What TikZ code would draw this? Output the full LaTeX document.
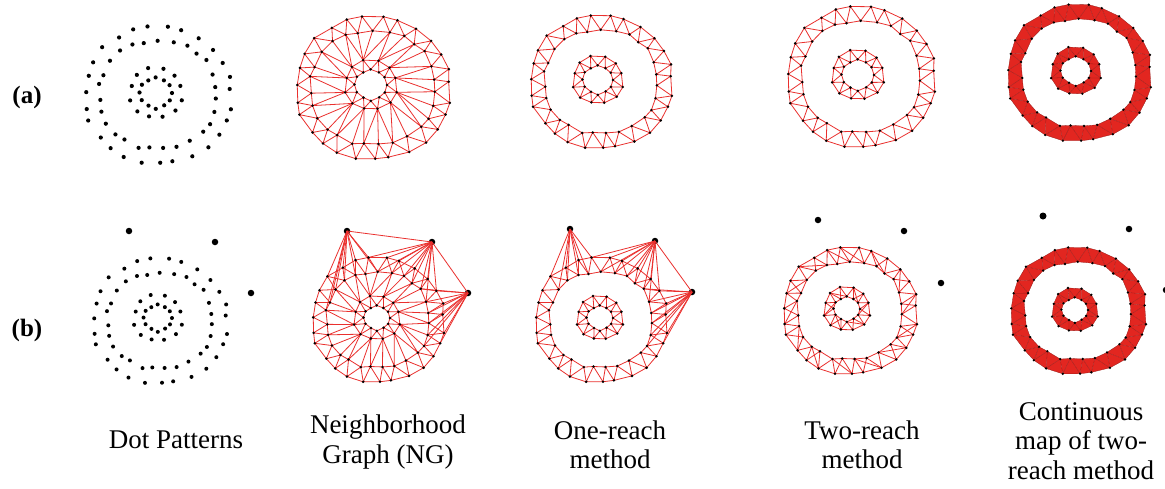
\documentclass[tikz,border=0pt]{standalone}
\usepackage{fontspec}
\setmainfont{Liberation Serif}
\definecolor{edgered}{RGB}{234,48,46}
\definecolor{fillred}{RGB}{226,38,32}
\definecolor{darkred}{RGB}{150,25,22}
\tikzset{
  edge/.style={draw=edgered,line width=0.8pt},
  cedge/.style={draw=darkred,line width=0.3pt},
  outl/.style={circle,fill=black,inner sep=0pt,minimum size=6.5pt},
  lab/.style={align=center,font=\fontsize{27}{29.5}\selectfont},
  rowlab/.style={font=\fontsize{25}{28}\selectfont\bfseries}
}
% ring of points: name, cx, cy, rx, ry, N, half thickness, seed
\newcommand{\mkring}[8]{%
  \pgfmathtruncatemacro{\rlast}{#6-1}%
  \foreach \i in {0,...,\rlast}{%
    \pgfmathsetmacro{\ang}{90+\i*(360/#6)+2*sin(mod(\i*\i,97)*37+#8)}%
    \pgfmathsetmacro{\sg}{2*mod(\i,2)-1}%
    \pgfmathsetmacro{\dd}{\sg*#7+0.18*#7*sin(mod(\i*\i,89)*53+#8)}%
    \pgfmathsetmacro{\ff}{1+0.012*(1-cos(4*\ang))}%
    \coordinate (#1-\i) at ({#2+(#4*\ff+\dd)*cos(\ang)},{#3-(#5*\ff+\dd)*sin(\ang)});%
  }%
}
\newcommand{\ringdots}[3]{%
  \pgfmathtruncatemacro{\rlast}{#2-1}%
  \foreach \i in {0,...,\rlast}{\fill[black] (#1-\i) circle (#3);}%
}
\newcommand{\drawstrip}[3]{%
  \pgfmathtruncatemacro{\rlast}{#2-1}%
  \foreach \i in {0,...,\rlast}{%
    \pgfmathtruncatemacro{\ja}{mod(\i+1,#2)}%
    \pgfmathtruncatemacro{\jb}{mod(\i+2,#2)}%
    \draw[#3] (#1-\i) -- (#1-\ja) (#1-\i) -- (#1-\jb);%
  }%
}
\newcommand{\extrastrip}[3]{%
  \pgfmathtruncatemacro{\rlast}{#2-1}%
  \foreach \i in {0,4,...,\rlast}{%
    \pgfmathtruncatemacro{\jc}{mod(\i+3,#2)}%
    \draw[#3] (#1-\i) -- (#1-\jc);%
  }%
}
\newcommand{\fillstrip}[2]{%
  \pgfmathtruncatemacro{\rlast}{#2-1}%
  \foreach \i in {0,...,\rlast}{%
    \pgfmathtruncatemacro{\ja}{mod(\i+1,#2)}%
    \pgfmathtruncatemacro{\jb}{mod(\i+2,#2)}%
    \fill[fillred] (#1-\i) -- (#1-\ja) -- (#1-\jb) -- cycle;%
  }%
}
% cross fan between outer ring (inner layer) and inner ring (outer layer)
\newcommand{\crossfan}[4]{%
  \pgfmathtruncatemacro{\mh}{#2/2-1}%
  \foreach \m in {0,...,\mh}{%
    \pgfmathtruncatemacro{\oi}{2*\m}%
    \pgfmathtruncatemacro{\na}{mod(floor(\m*#4/#2),#4/2)}%
    \pgfmathtruncatemacro{\nb}{mod(floor((\m+1)*#4/#2),#4/2)}%
    \pgfmathtruncatemacro{\ia}{2*\na+1}%
    \pgfmathtruncatemacro{\ib}{2*\nb+1}%
    \draw[edge] (#1-\oi) -- (#3-\ia) (#1-\oi) -- (#3-\ib);%
  }%
}
\newcommand{\fanto}[3]{\foreach \i in {#3}{\draw[edge] (#1.center) -- (#2-\i);}}
\begin{document}
\begin{tikzpicture}[x=1pt,y=-1pt]
\useasboundingbox (0,0) rectangle (1165,488);
\fill[white] (0,0) rectangle (1165,488);
% ---------- row (a) ----------
\node[rowlab] (la) at (27,97) {(a)};
% dot pattern
\mkring{a1o}{158}{95}{66}{61}{54}{7}{10}
\mkring{a1i}{156}{93}{21}{20}{24}{5}{40}
\ringdots{a1o}{54}{2.1}
\ringdots{a1i}{24}{2.1}
% NG
\mkring{a2o}{373}{88}{70}{64}{54}{7}{10}
\mkring{a2i}{371}{85}{21}{20}{24}{5}{40}
\drawstrip{a2o}{54}{edge}
\drawstrip{a2i}{24}{edge}
\crossfan{a2o}{54}{a2i}{24}
\ringdots{a2o}{54}{1.4}
\ringdots{a2i}{24}{1.4}
% one-reach
\mkring{a3o}{601}{82}{64}{59}{54}{7}{10}
\mkring{a3i}{598}{80}{20}{19}{24}{5}{40}
\drawstrip{a3o}{54}{edge}
\drawstrip{a3i}{24}{edge}
\ringdots{a3o}{54}{1.4}
\ringdots{a3i}{24}{1.4}
% two-reach
\mkring{a4o}{861}{77}{67}{63}{54}{7}{10}
\mkring{a4i}{858}{75}{21}{20}{24}{5}{40}
\drawstrip{a4o}{54}{edge}
\drawstrip{a4i}{24}{edge}
\ringdots{a4o}{54}{1.4}
\ringdots{a4i}{24}{1.4}
% continuous
\mkring{a5o}{1079}{73}{65}{61}{54}{7}{10}
\mkring{a5i}{1076}{71}{20}{19}{24}{5}{40}
\fillstrip{a5o}{54}
\fillstrip{a5i}{24}
\drawstrip{a5o}{54}{cedge}
\drawstrip{a5i}{24}{cedge}
\ringdots{a5o}{54}{1.3}
\ringdots{a5i}{24}{1.3}
% ---------- row (b) ----------
\node[rowlab] (lb) at (27,330) {(b)};
% dot pattern
\mkring{b1o}{160}{321}{60}{55}{54}{7}{10}
\mkring{b1i}{158}{318}{19}{18}{24}{5}{40}
\ringdots{b1o}{54}{2.0}
\ringdots{b1i}{24}{2.0}
\node[outl] (b1p) at (129,231) {};
\node[outl] (b1q) at (215,242) {};
\node[outl] (b1r) at (251,293) {};
% NG
\mkring{b2o}{378}{320}{59}{55}{54}{7}{10}
\mkring{b2i}{377}{318}{18}{17}{24}{5}{40}
\node[outl] (b2p) at (347,231) {};
\node[outl] (b2q) at (432,242) {};
\node[outl] (b2r) at (468,293) {};
\drawstrip{b2o}{54}{edge}
\drawstrip{b2i}{24}{edge}
\crossfan{b2o}{54}{b2i}{24}
\draw[edge] (b2p.center) -- (b2q.center) -- (b2r.center);
\fanto{b2p}{b2o}{0,1,3,4,5,6,7,8,10,12}
\fanto{b2q}{b2o}{44,45,46,47,48,49,50,51,52,53,0,1}
\fanto{b2r}{b2o}{36,37,38,39,40,41,42,43,44,45,46}
\ringdots{b2o}{54}{1.4}
\ringdots{b2i}{24}{1.4}
% one-reach
\mkring{b3o}{601}{320}{59}{55}{54}{7}{10}
\mkring{b3i}{600}{318}{18}{17}{24}{5}{40}
\node[outl] (b3p) at (570,229) {};
\node[outl] (b3q) at (655,241) {};
\node[outl] (b3r) at (692,292) {};
\drawstrip{b3o}{54}{edge}
\drawstrip{b3i}{24}{edge}
\draw[edge] (b3q.center) -- (b3r.center);
\fanto{b3p}{b3o}{1,2,3,4,5,6,7,8}
\fanto{b3q}{b3o}{44,45,46,47,48,49,50,51,52,53,0,1}
\fanto{b3r}{b3o}{36,37,38,39,40,41,42,43,44,45,46}
\ringdots{b3o}{54}{1.4}
\ringdots{b3i}{24}{1.4}
% two-reach
\mkring{b4o}{850}{311}{60}{56}{54}{7}{10}
\mkring{b4i}{847}{309}{18}{17}{24}{5}{40}
\node[outl] (b4p) at (818,220) {};
\node[outl] (b4q) at (904,231) {};
\node[outl] (b4r) at (941,283) {};
\drawstrip{b4o}{54}{edge}
\drawstrip{b4i}{24}{edge}
\extrastrip{b4o}{54}{edge}
\extrastrip{b4i}{24}{edge}
\ringdots{b4o}{54}{1.4}
\ringdots{b4i}{24}{1.4}
% continuous
\mkring{b5o}{1078}{311}{61}{56}{54}{7}{10}
\mkring{b5i}{1075}{310}{18}{17}{24}{5}{40}
\node[outl,minimum size=7pt] (b5p) at (1043,216) {};
\node[outl] (b5q) at (1129,229) {};
\node[outl] (b5r) at (1166,290) {};
\fillstrip{b5o}{54}
\fillstrip{b5i}{24}
\drawstrip{b5o}{54}{cedge}
\drawstrip{b5i}{24}{cedge}
\ringdots{b5o}{54}{1.3}
\ringdots{b5i}{24}{1.3}
% ---------- captions ----------
\node[lab] (c1) at (176,440) {Dot Patterns};
\node[lab] (c2) at (388,442) {Neighborhood\\Graph (NG)};
\node[lab] (c3) at (610,445) {One-reach\\method};
\node[lab] (c4) at (862,445) {Two-reach\\method};
\node[lab] (c5) at (1081,441) {Continuous\\map of two-\\reach method};
\end{tikzpicture}
\end{document}
